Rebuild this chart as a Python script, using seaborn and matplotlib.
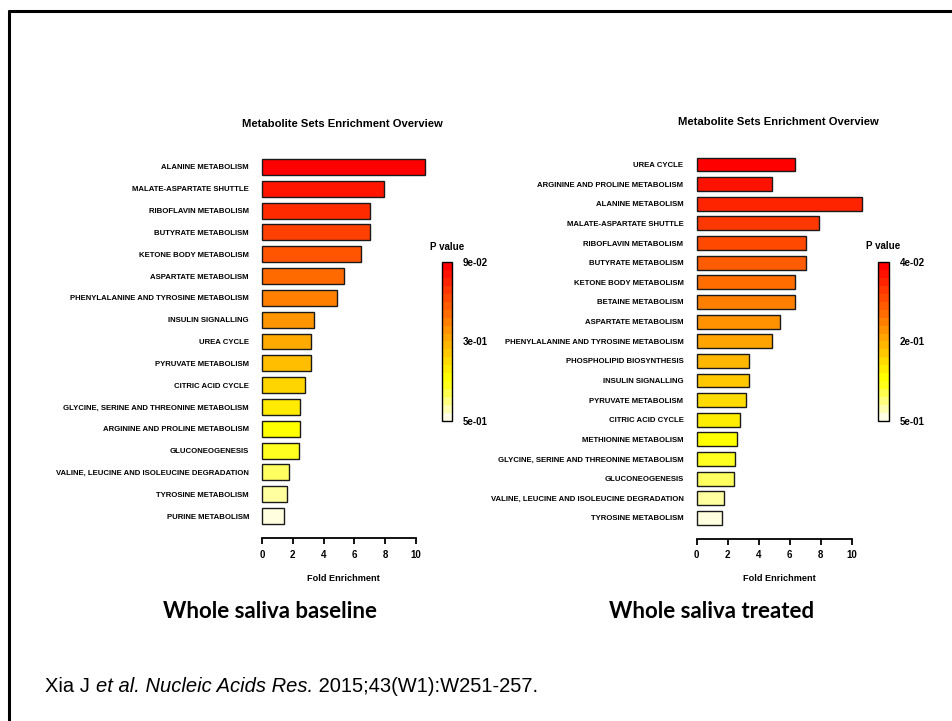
import numpy as np
import pandas as pd
import matplotlib
matplotlib.use("Agg")
import matplotlib.pyplot as plt
import seaborn as sns
from matplotlib.colors import hsv_to_rgb, ListedColormap, Normalize
from matplotlib.cm import ScalarMappable
from matplotlib.lines import Line2D

# ---------------- data ----------------
left_sets = [
    "ALANINE METABOLISM", "MALATE-ASPARTATE SHUTTLE", "RIBOFLAVIN METABOLISM",
    "BUTYRATE METABOLISM", "KETONE BODY METABOLISM", "ASPARTATE METABOLISM",
    "PHENYLALANINE AND TYROSINE METABOLISM", "INSULIN SIGNALLING", "UREA CYCLE",
    "PYRUVATE METABOLISM", "CITRIC ACID CYCLE",
    "GLYCINE, SERINE AND THREONINE METABOLISM", "ARGININE AND PROLINE METABOLISM",
    "GLUCONEOGENESIS", "VALINE, LEUCINE AND ISOLEUCINE DEGRADATION",
    "TYROSINE METABOLISM", "PURINE METABOLISM",
]
left_fold = [10.6, 7.9, 7.0, 7.0, 6.4, 5.3, 4.9, 3.4, 3.2, 3.2, 2.8, 2.45, 2.45,
             2.4, 1.78, 1.63, 1.45]
left_p = [0.09, 0.11, 0.13, 0.15, 0.17, 0.19, 0.21, 0.24, 0.27, 0.29, 0.32, 0.35,
          0.38, 0.41, 0.44, 0.47, 0.50]

right_sets = [
    "UREA CYCLE", "ARGININE AND PROLINE METABOLISM", "ALANINE METABOLISM",
    "MALATE-ASPARTATE SHUTTLE", "RIBOFLAVIN METABOLISM", "BUTYRATE METABOLISM",
    "KETONE BODY METABOLISM", "BETAINE METABOLISM", "ASPARTATE METABOLISM",
    "PHENYLALANINE AND TYROSINE METABOLISM", "PHOSPHOLIPID BIOSYNTHESIS",
    "INSULIN SIGNALLING", "PYRUVATE METABOLISM", "CITRIC ACID CYCLE",
    "METHIONINE METABOLISM", "GLYCINE, SERINE AND THREONINE METABOLISM",
    "GLUCONEOGENESIS", "VALINE, LEUCINE AND ISOLEUCINE DEGRADATION",
    "TYROSINE METABOLISM",
]
right_fold = [6.36, 4.88, 10.68, 7.9, 7.03, 7.03, 6.36, 6.36, 5.37, 4.88, 3.4,
              3.4, 3.2, 2.77, 2.6, 2.45, 2.4, 1.78, 1.61]
right_p = [0.04, 0.06, 0.08, 0.10, 0.12, 0.14, 0.16, 0.18, 0.20, 0.22, 0.24, 0.26,
           0.28, 0.31, 0.34, 0.37, 0.40, 0.43, 0.46]

xticks = [0, 2, 4, 6, 8, 10]
chart_title = "Metabolite Sets Enrichment Overview"
xlabel = "Fold Enrichment"
legend_title = "P value"
captions = ["Whole saliva baseline", "Whole saliva treated"]
citation = [("Xia J ", "normal"), ("et al. Nucleic Acids Res.", "italic"),
            (" 2015;43(W1):W251-257.", "normal")]


def heat_colors(n):
    """R's heat.colors(n)"""
    j = n // 4
    i = n - j
    cols = [hsv_to_rgb((h, 1.0, 1.0)) for h in np.linspace(0, 1 / 6, i)]
    if j > 0:
        cols += [hsv_to_rgb((1 / 6, s, 1.0))
                 for s in np.linspace(1 - 1 / (2 * j), 1 / (2 * j), j)]
    return cols


sns.set_theme(style="white")
LABEL_FONT = ["Liberation Sans Narrow", "Liberation Sans", "DejaVu Sans"]
plt.rcParams["font.family"] = LABEL_FONT
for k in ["text.color", "axes.labelcolor", "xtick.color", "ytick.color"]:
    plt.rcParams[k] = "black"

W, H = 952, 721
fig = plt.figure(figsize=(W / 100, H / 100), dpi=100)
fig.patch.set_facecolor("white")


def px_axes(left, top, right, bottom):
    return fig.add_axes([left / W, 1 - bottom / H, (right - left) / W, (bottom - top) / H])


def draw_chart(ax, sets, fold, pvals, xlim, bar_h, label_fs):
    order = np.argsort(np.argsort(pvals))
    pal = heat_colors(len(pvals))
    colors = [pal[k] for k in order]
    df = pd.DataFrame({"set": sets, "fold": fold})
    sns.barplot(data=df, x="fold", y="set", hue="set", palette=colors, legend=False,
                orient="h", width=bar_h, ax=ax, edgecolor="#1a1a1a", linewidth=1.0,
                saturation=1)
    ax.set_xlim(*xlim)
    ax.set_ylim(len(sets) - 0.5, -0.5)
    for s in ["left", "top", "right"]:
        ax.spines[s].set_visible(False)
    ax.spines["bottom"].set_bounds(0, 10)
    ax.spines["bottom"].set_position(("outward", 8))
    ax.spines["bottom"].set_linewidth(1.3)
    ax.spines["bottom"].set_color("black")
    ax.set_xticks(xticks)
    ax.set_xticklabels([str(t) for t in xticks], fontsize=7, fontweight="bold")
    ax.tick_params(axis="x", length=4.3, width=1.3, pad=4, color="black", bottom=True)
    ax.tick_params(axis="y", length=0, pad=4.7)
    for lab in ax.get_yticklabels():
        lab.set_fontsize(label_fs)
        lab.set_fontweight("bold")
    ax.set_xlabel(xlabel, fontsize=6.6, fontweight="bold", labelpad=10)
    ax.set_ylabel("")
    ax.set_facecolor("white")
    ax.grid(False)


def draw_legend(cax, pvals, title_x, title_y):
    cmap = ListedColormap(heat_colors(20))
    norm = Normalize(min(pvals), max(pvals))
    cb = fig.colorbar(ScalarMappable(norm=norm, cmap=cmap), cax=cax)
    cax.invert_yaxis()
    lo, hi = min(pvals), max(pvals)
    ticks = [lo, (lo + hi) / 2, hi]
    cb.set_ticks(ticks)
    cb.set_ticklabels(["%.0e" % t for t in ticks])
    cax.tick_params(length=0, pad=8, labelsize=7)
    for lab in cax.get_yticklabels():
        lab.set_fontweight("bold")
    cb.outline.set_linewidth(1.0)
    cb.outline.set_edgecolor("black")
    fig.text(title_x / W, 1 - title_y / H, legend_title, ha="center", va="center",
             fontsize=7, fontweight="bold")


axL = px_axes(255.5, 156, 431.7, 527)
draw_chart(axL, left_sets, left_fold, left_p, (-0.42, 11.02), 0.73, 5.6)
axR = px_axes(690, 154.7, 868.7, 527.8)
draw_chart(axR, right_sets, right_fold, right_p, (-0.43, 11.1), 0.71, 5.6)

fig.text(342 / W, 1 - 124 / H, chart_title, ha="center", va="center", fontsize=8.1,
         fontweight="bold")
fig.text(778 / W, 1 - 122 / H, chart_title, ha="center", va="center", fontsize=8.1,
         fontweight="bold")

draw_legend(px_axes(442, 262, 452, 421), left_p, 447, 247)
draw_legend(px_axes(878, 262, 889, 421), right_p, 883, 246)

# captions
for txt, cx in zip(captions, [270, 712]):
    fig.text(cx / W, 1 - 612 / H, txt, ha="center", va="center", fontsize=16,
             fontweight="bold", family=["Lato", "DejaVu Sans"])

# citation, piece by piece
fig.canvas.draw()
renderer = fig.canvas.get_renderer()
x = 45
for piece, style in citation:
    t = fig.text(x / W, 1 - 686 / H, piece, ha="left", va="center", fontsize=14.5,
                 style=style, family=["Liberation Sans", "DejaVu Sans"])
    bb = t.get_window_extent(renderer=renderer)
    x += bb.width

# slide frame (left and top edges visible)
fig.add_artist(Line2D([9 / W, 9 / W], [1 - 10 / H, -0.05], transform=fig.transFigure,
                      color="black", lw=2.2, solid_capstyle="butt"))
fig.add_artist(Line2D([7.5 / W, 1.05], [1 - 10.5 / H, 1 - 10.5 / H],
                      transform=fig.transFigure, color="black", lw=2.2,
                      solid_capstyle="butt"))

fig.savefig("out.png", dpi=100, facecolor="white")
